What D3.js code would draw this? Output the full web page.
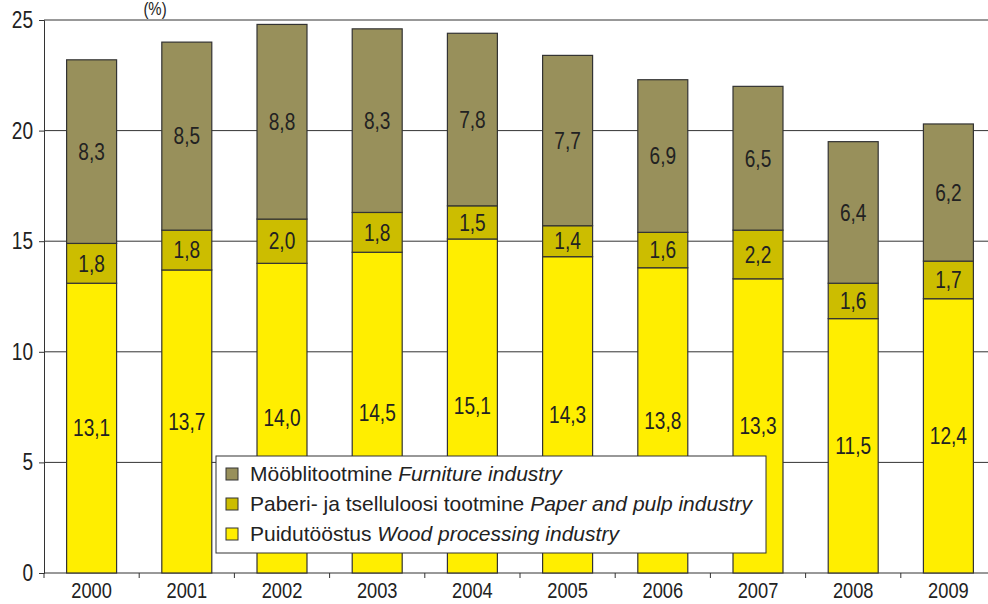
<!DOCTYPE html>
<html><head><meta charset="utf-8">
<script src="https://cdn.jsdelivr.net/npm/d3@7"></script>
<style>body{margin:0;background:#fff}svg{display:block;font-family:"Liberation Sans",Arial,sans-serif}</style>
</head><body><svg id="c" width="988" height="604"></svg>
<script>
const years = ["2000","2001","2002","2003","2004","2005","2006","2007","2008","2009"];
const wood = [13.1,13.7,14.0,14.5,15.1,14.3,13.8,13.3,11.5,12.4];
const paper = [1.8,1.8,2.0,1.8,1.5,1.4,1.6,2.2,1.6,1.7];
const furniture = [8.3,8.5,8.8,8.3,7.8,7.7,6.9,6.5,6.4,6.2];
const yTicks = [0,5,10,15,20,25];
const seriesNames = [
  {key:"furniture", et:"Mööblitootmine", en:"Furniture industry", color:"#98905B"},
  {key:"paper", et:"Paberi- ja tselluloosi tootmine", en:"Paper and pulp industry", color:"#CCBD00"},
  {key:"wood", et:"Puidutööstus", en:"Wood processing industry", color:"#FFEE00"}
];

(function(){
const svg = d3.select("#c");
const SX = 0.83;
const mL = 44, mT = 20, mB = 573, mR = 996;
const x = d3.scaleBand().domain(years).range([mL, mR]).paddingInner(0.475).paddingOuter(0.2375);
const y = d3.scaleLinear().domain([0,25]).range([mB, mT]);

// narrow text helper
function ntext(parent, tx, ty, str, anchor, dy, fs){
  const g = parent.append("g").attr("transform", `translate(${tx},${ty}) scale(${SX},1)`);
  g.append("text").attr("text-anchor", anchor).attr("dy", dy||0).attr("font-size",fs||23).attr("fill","#222").text(str);
  return g;
}

// grid
svg.append("g").selectAll("line").data(yTicks.filter(d=>d>0)).join("line")
  .attr("x1", mL).attr("x2", 988).attr("y1", d=>y(d)).attr("y2", d=>y(d))
  .attr("stroke", "#333").attr("stroke-width", 1);

// y axis
const ya = svg.append("g").attr("transform", `translate(${mL},0)`)
  .call(d3.axisLeft(y).tickValues(yTicks).tickSize(5).tickFormat(""));
ya.select(".domain").attr("stroke","#333");
ya.selectAll("line").attr("stroke","#333");
const yl = svg.append("g");
yTicks.forEach(t=>ntext(yl, mL-11, y(t), String(t), "end", "0.35em"));

// x axis
const step = x.step();
const xa = svg.append("g").attr("transform", `translate(0,${mB})`);
xa.append("line").attr("x1", mL).attr("x2", 988).attr("stroke","#333");
xa.selectAll("line.t").data(d3.range(0,11)).join("line").attr("class","t")
  .attr("x1", i=>mL+i*step).attr("x2", i=>mL+i*step).attr("y1",0).attr("y2",5).attr("stroke","#333");
years.forEach(d=>ntext(xa, x(d)+x.bandwidth()/2, 25, d, "middle", 0, 22));

// stacks
const rows = years.map((yr,i)=>({year:yr, wood:wood[i], paper:paper[i], furniture:furniture[i]}));
const stack = d3.stack().keys(["wood","paper","furniture"])(rows);
const colorOf = k => seriesNames.find(s=>s.key===k).color;
const fmt = v => v.toFixed(1).replace(".", ",");
stack.forEach(layer=>{
  const g = svg.append("g");
  g.selectAll("rect").data(layer).join("rect")
    .attr("x", d=>x(d.data.year)).attr("width", x.bandwidth())
    .attr("y", d=>y(d[1])).attr("height", d=>y(d[0])-y(d[1]))
    .attr("fill", colorOf(layer.key)).attr("stroke","#333").attr("stroke-width",1.2);
  layer.forEach(d=>ntext(g, x(d.data.year)+x.bandwidth()/2, y((d[0]+d[1])/2), fmt(d.data[layer.key]), "middle", "0.36em"));
});

// (%) label
ntext(svg, 155, 15, "(%)", "middle", 0, 18);

// legend
const lg = svg.append("g");
lg.append("rect").attr("x",216).attr("y",456).attr("width",550).attr("height",97).attr("fill","#fff").attr("stroke","#333");
seriesNames.forEach((s,i)=>{
  const cy = 474 + i*30;
  lg.append("rect").attr("x",226).attr("y",cy-6).attr("width",12).attr("height",12).attr("fill",s.color).attr("stroke","#333");
  const t = lg.append("text").attr("x",250).attr("y",cy).attr("dy","0.35em").attr("font-size",21).attr("fill","#222");
  t.append("tspan").text(s.et+" ");
  t.append("tspan").attr("font-style","italic").text(s.en);
});
})();
</script></body></html>
